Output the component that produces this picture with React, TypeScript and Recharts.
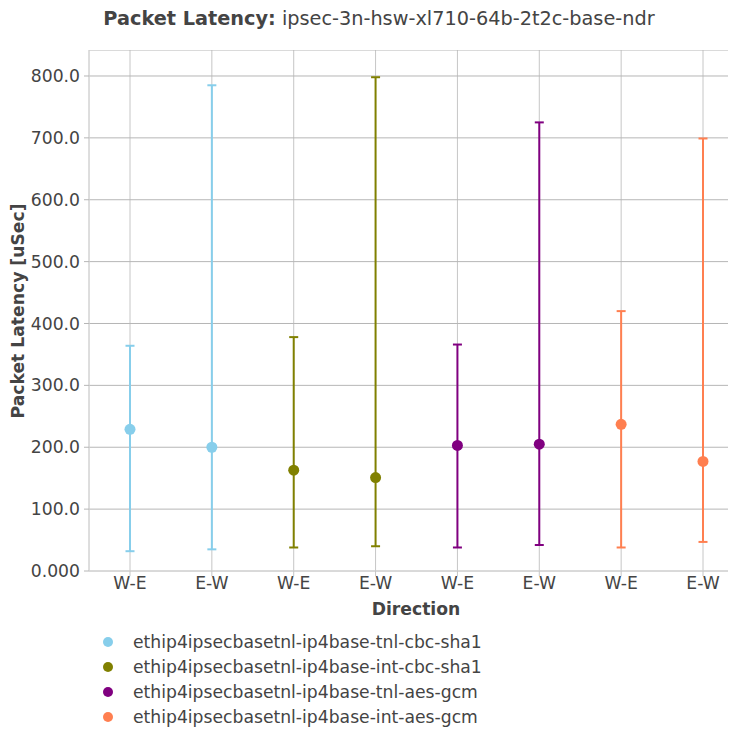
import React from 'react';
import { ComposedChart, Line, ErrorBar, XAxis, YAxis, CartesianGrid, Legend } from 'recharts';

const directions = ['W-E', 'E-W', 'W-E', 'E-W', 'W-E', 'E-W', 'W-E', 'E-W'];
const seriesNames = [
  'ethip4ipsecbasetnl-ip4base-tnl-cbc-sha1',
  'ethip4ipsecbasetnl-ip4base-int-cbc-sha1',
  'ethip4ipsecbasetnl-ip4base-tnl-aes-gcm',
  'ethip4ipsecbasetnl-ip4base-int-aes-gcm',
];
const colors = ['#87ceeb', '#808000', '#800080', '#ff7f50'];

// per series: [W-E, E-W]
const avgValues = [
  [229, 200],
  [163, 151],
  [203, 205],
  [237, 177],
];
const minValues = [
  [32, 35],
  [38, 40],
  [38, 42],
  [38, 47],
];
const maxValues = [
  [364, 785],
  [378, 798],
  [366, 725],
  [420, 699],
];
const yTicks = [0, 100, 200, 300, 400, 500, 600, 700, 800];

const FONT = '"DejaVu Sans", sans-serif';
const TEXT = '#444';
const FS = 17.2;

const rows = directions.map((dir, i) => {
  const s = Math.floor(i / 2);
  const k = i % 2;
  const row: Record<string, any> = { idx: i, dir };
  const avg = avgValues[s][k];
  row[`s${s}`] = avg;
  row[`e${s}`] = [avg - minValues[s][k], maxValues[s][k] - avg];
  return row;
});

const fmtY = (v: number) => (v === 0 ? '0.000' : v.toFixed(1));

const renderLegend = () => (
  <div style={{ height: 100, fontFamily: FONT, fontSize: FS, color: TEXT }}>
    <div style={{ position: 'relative', top: -2 }}>
      {seriesNames.map((name, i) => (
        <div key={name} style={{ display: 'flex', alignItems: 'center', height: 25, whiteSpace: 'nowrap' }}>
          <span
            style={{
              display: 'inline-block',
              width: 10,
              height: 10,
              borderRadius: '50%',
              background: colors[i],
              marginLeft: 95,
              marginRight: 20,
            }}
          />
          <span>{name}</span>
        </div>
      ))}
    </div>
  </div>
);

export default function App() {
  return (
    <div style={{ width: 728, height: 723, overflow: 'hidden' }}>
      <div
        style={{
          width: 728,
          height: 42,
          boxSizing: 'border-box',
          paddingLeft: 14,
          textAlign: 'center',
          fontFamily: FONT,
          fontSize: 19.3,
          lineHeight: '21px',
          color: TEXT,
          whiteSpace: 'nowrap',
        }}
      >
        <b>Packet Latency:</b> ipsec-3n-hsw-xl710-64b-2t2c-base-ndr
      </div>
      <ComposedChart
        width={740}
        height={681}
        data={rows}
        margin={{ top: 0, right: 4, left: 0, bottom: 0 }}
      >
        <CartesianGrid horizontal={false} stroke="#c6c6c6" />
        <CartesianGrid vertical={false} stroke="#b6b6b6" />
        <XAxis
          dataKey="idx"
          type="category"
          height={60}
          padding={{ left: 41, right: 41 }}
          tickFormatter={(i: number) => directions[i]}
          tick={{ fill: TEXT, fontSize: FS, fontFamily: FONT }}
          tickSize={5}
          tickMargin={1}
          axisLine={{ stroke: '#d8d8d8' }}
          tickLine={{ stroke: '#c6c6c6' }}
          label={{
            content: () => (
              <text x={408} y={559} dy="0.35em" textAnchor="middle" fill={TEXT} fontFamily={FONT} fontSize={FS} fontWeight="bold">
                Direction
              </text>
            ),
          }}
        />
        <YAxis
          width={81}
          domain={[0, 842]}
          ticks={yTicks}
          tickFormatter={fmtY}
          tick={{ fill: TEXT, fontSize: FS, fontFamily: FONT }}
          tickSize={5}
          tickMargin={4}
          axisLine={{ stroke: '#d8d8d8' }}
          tickLine={{ stroke: '#b6b6b6' }}
          label={{
            content: () => (
              <text
                x={10}
                y={261}
                dy="0.35em"
                textAnchor="middle"
                transform="rotate(-90 10 261)"
                fill={TEXT}
                fontFamily={FONT}
                fontSize={FS}
                fontWeight="bold"
              >
                Packet Latency [uSec]
              </text>
            ),
          }}
        />
        <Legend verticalAlign="bottom" content={renderLegend} wrapperStyle={{ left: 0, width: 740 }} />
        {seriesNames.map((name, s) => (
          <Line
            key={name}
            name={name}
            dataKey={`s${s}`}
            stroke="none"
            strokeWidth={0}
            dot={{ r: 5.5, fill: colors[s], stroke: 'none' }}
            activeDot={false}
            isAnimationActive={false}
          >
            <ErrorBar dataKey={`e${s}`} direction="y" width={4.5} stroke={colors[s]} strokeWidth={2} />
          </Line>
        ))}
      </ComposedChart>
    </div>
  );
}
